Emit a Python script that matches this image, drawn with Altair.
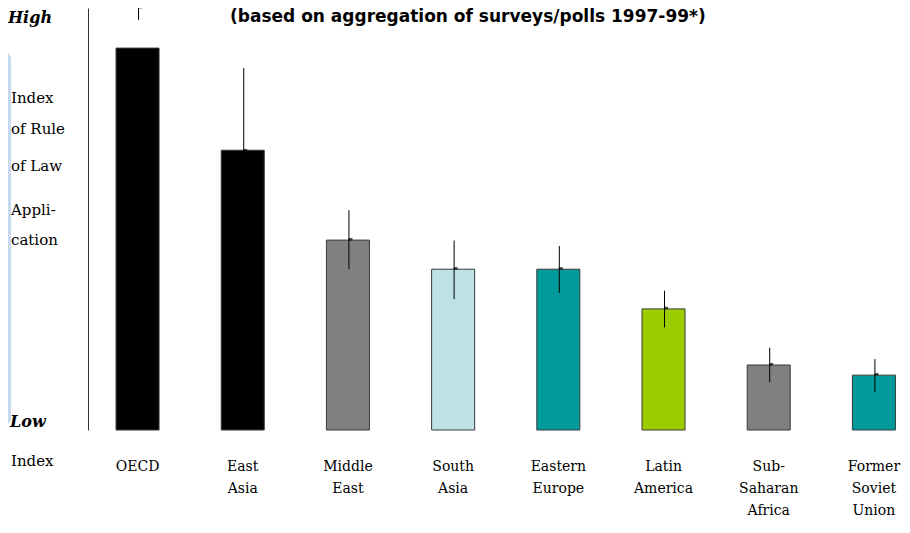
import altair as alt
import pandas as pd

# ---- data ----
regions = ["OECD", "East Asia", "Middle East", "South Asia", "Eastern Europe",
           "Latin America", "Sub-Saharan Africa", "Former Soviet Union"]
index_value = [90.5, 66.3, 45.0, 38.1, 38.1, 28.7, 15.4, 13.0]
err_low = [97.2, 47.0, 38.1, 31.0, 32.5, 24.3, 11.3, 9.0]
err_high = [104.0, 85.8, 52.1, 44.9, 43.6, 33.0, 19.5, 16.8]
err_mid = [100.2, 66.3, 45.2, 38.3, 38.3, 28.9, 15.6, 13.2]
bar_colors = ["#000000", "#000000", "#808080", "#BDE1E4", "#009A9A",
              "#9ACC00", "#808080", "#009A9A"]

title_text = "(based on aggregation of surveys/polls 1997-99*)"

df = pd.DataFrame({
    "region": regions,
    "value": index_value,
    "low": err_low,
    "high": err_high,
    "mid": err_mid,
})

SERIF = "DejaVu Serif"

x = alt.X("region:N", sort=regions, title=None,
          scale=alt.Scale(paddingInner=0.591, paddingOuter=0.1645, align=0.81),
          axis=alt.Axis(domain=False, ticks=False, labelAngle=0, labelPadding=29,
                        labelFont=SERIF, labelFontSize=14, labelColor="#000000",
                        labelLineHeight=22, labelBaseline="top",
                        labelExpr="split(replace(datum.label, '-', '- '), ' ')"))
yscale = alt.Scale(domain=[0, 100], nice=False, zero=True)

base = alt.Chart(df)

bars = base.mark_bar(stroke="#3a3a3a", strokeWidth=1).encode(
    x=x,
    y=alt.Y("value:Q", scale=yscale, title=None,
            axis=alt.Axis(domain=True, domainColor="#333333", domainWidth=1,
                          ticks=False, labels=False, grid=False)),
    color=alt.Color("region:N", sort=regions, legend=None,
                    scale=alt.Scale(domain=regions, range=bar_colors)),
)

errs = base.mark_rule(color="#000000", strokeWidth=1, xOffset=1).encode(
    x=alt.X("region:N", sort=regions),
    y=alt.Y("low:Q", scale=yscale),
    y2="high:Q",
)

mids = base.mark_tick(color="#000000", thickness=2.5, size=4, orient="horizontal",
                      xOffset=2.5).encode(
    x=alt.X("region:N", sort=regions),
    y=alt.Y("mid:Q", scale=yscale),
)

ann = pd.DataFrame({"a": [0]})


def label(text, px, py, size=15, weight="normal", style="normal", font=SERIF,
          align="left"):
    return alt.Chart(ann).mark_text(
        text=text, font=font, fontSize=size, fontWeight=weight, fontStyle=style,
        align=align, baseline="alphabetic", color="#000000"
    ).encode(x=alt.value(px), y=alt.value(py))


stripe = alt.Chart(ann).mark_rect(color="#C6D9EF", cornerRadius=7).encode(
    x=alt.value(-100), x2=alt.value(-77), y=alt.value(44), y2=alt.value(417)
)

texts = [
    label(title_text, 142, 14, size=17, weight="bold", font="DejaVu Sans"),
    label("High", -80, 15, size=16, weight="bold", style="italic"),
    label("Index", -77, 95),
    label("of Rule", -77, 126),
    label("of Law", -77, 163),
    label("Appli-", -77, 207),
    label("cation", -77, 237),
    label("Low", -78, 419, size=16, weight="bold", style="italic"),
    label("Index", -77, 458),
]

chart = alt.layer(stripe, bars, errs, mids, *texts).properties(
    width=814, height=422,
    autosize=alt.AutoSizeParams(type="none"),
    padding={"left": 80, "top": 0, "right": 0, "bottom": 86},
    background="#ffffff",
).configure_view(stroke=None, strokeWidth=0)

chart.save("out.html", embed_options={"renderer": "svg", "actions": False})
